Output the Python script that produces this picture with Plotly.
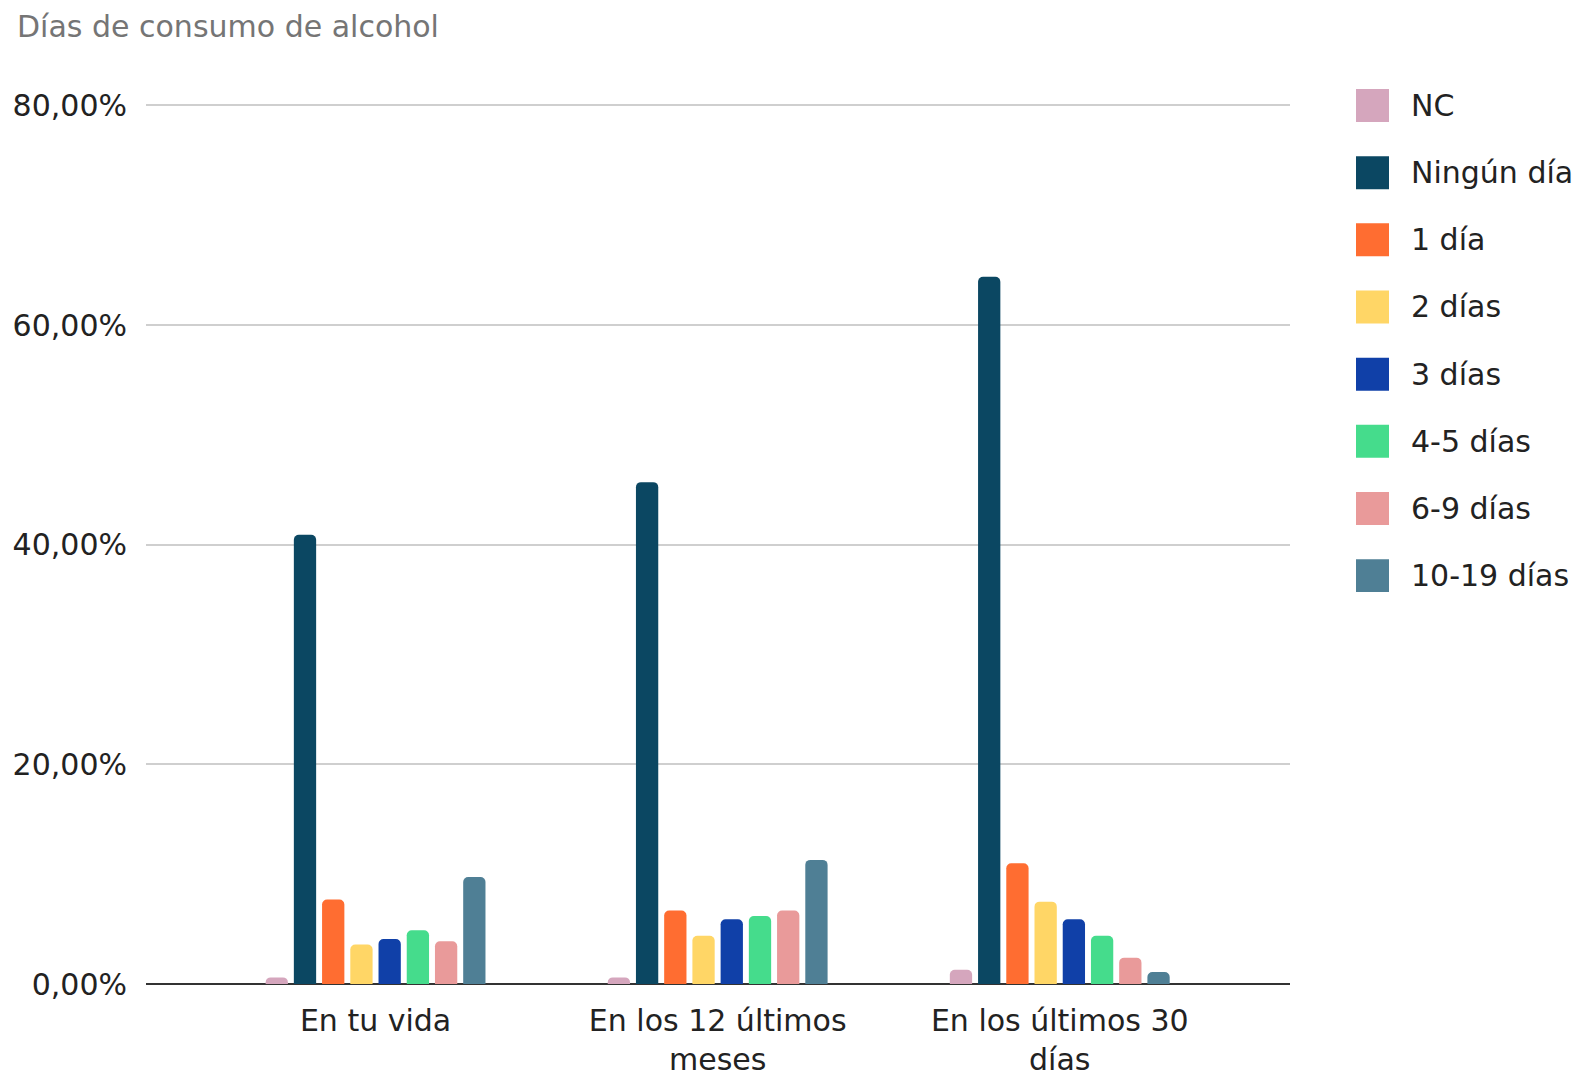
import plotly.graph_objects as go

categories = ["En tu vida", "En los 12 últimos<br>meses", "En los últimos 30<br>días"]
series_names = ["NC", "Ningún día", "1 día", "2 días", "3 días", "4-5 días", "6-9 días", "10-19 días"]
nc = [0.6, 0.6, 1.3]
ningun = [40.9, 45.7, 64.4]
dia1 = [7.7, 6.7, 11.0]
dias2 = [3.6, 4.4, 7.5]
dias3 = [4.1, 5.9, 5.9]
dias4_5 = [4.9, 6.2, 4.4]
dias6_9 = [3.9, 6.7, 2.4]
dias10_19 = [9.75, 11.3, 1.1]
y_ticks = [0, 20, 40, 60, 80]
y_tick_labels = ["0,00%", "20,00%", "40,00%", "60,00%", "80,00%"]

series_values = [nc, ningun, dia1, dias2, dias3, dias4_5, dias6_9, dias10_19]
colors = ["#d5a6bd", "#0b4762", "#ff6d31", "#ffd666", "#1040a8", "#45dc8c", "#e99a9a", "#4f7f95"]

FONT = "DejaVu Sans, Liberation Sans, Arial, sans-serif"
fig = go.Figure()
for name, vals, col in zip(series_names, series_values, colors):
    fig.add_trace(go.Bar(x=list(range(len(categories))), y=vals, name=name,
                         marker=dict(color=col, line=dict(width=0), cornerradius=5),
                         showlegend=False))

W, H = 1575, 1068
ml, mr, mt, mb = 138, 293, 91.5, 92
ymax = 80.5
fig.update_layout(
    width=W, height=H,
    margin=dict(l=ml, r=mr, t=mt, b=mb, autoexpand=False),
    paper_bgcolor="white", plot_bgcolor="white",
    barmode="group", bargap=0.34, bargroupgap=0.21,
    font=dict(family=FONT, size=30, color="#222222"),
    title=dict(text="Días de consumo de alcohol", x=9 / W, xanchor="left",
               y=1 - 18.3 / H, yanchor="middle",
               font=dict(family=FONT, size=30, color="#757575")),
    xaxis=dict(tickmode="array", tickvals=list(range(len(categories))), ticktext=categories,
               range=[-0.671, 2.673], showgrid=False, zeroline=False, showline=False,
               automargin=False,
               ticks="", ticklabelstandoff=16, tickfont=dict(size=30, color="#222222")),
    yaxis=dict(range=[0, ymax], tickmode="array", tickvals=y_ticks, ticktext=y_tick_labels,
               showgrid=True, gridcolor="#cfcfcf", gridwidth=2,
               zeroline=True, zerolinecolor="#333333", zerolinewidth=2,
               automargin=False,
               ticks="", ticklabelstandoff=18, tickfont=dict(size=30, color="#222222")),
    showlegend=False,
)

# custom legend
sq = 33
x0 = 1348
y_first = 97
step = 67.2
pw = W - ml - mr
ph = H - mt - mb
for i, (name, col) in enumerate(zip(series_names, colors)):
    yc = y_first + i * step
    fig.add_shape(type="rect", xref="paper", yref="paper",
                  x0=(x0 - ml) / pw, x1=(x0 + sq - ml) / pw,
                  y0=(H - mb - (yc + sq / 2)) / ph, y1=(H - mb - (yc - sq / 2)) / ph,
                  fillcolor=col, line=dict(width=0))
    fig.add_annotation(xref="paper", yref="paper",
                       x=(x0 + sq + 20 - ml) / pw, y=(H - mb - yc) / ph,
                       text=name, showarrow=False, xanchor="left", yanchor="middle",
                       font=dict(family=FONT, size=30, color="#222222"))

fig.write_html("out.html")
